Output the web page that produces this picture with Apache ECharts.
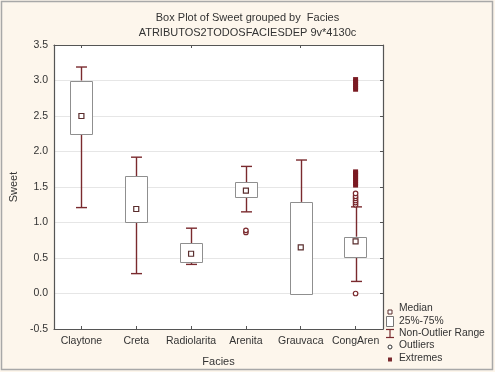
<!DOCTYPE html>
<html>
<head>
<meta charset="utf-8">
<script src="https://cdn.jsdelivr.net/npm/echarts@6/dist/echarts.min.js"></script>
<style>
html,body{margin:0;padding:0;background:#fdf6ec;}
#c{width:495px;height:372px;}
</style>
</head>
<body>
<div id="c"></div>
<script>
const categories = ['Claytone', 'Creta', 'Radiolarita', 'Arenita', 'Grauvaca', 'CongAren'];
const whiskerLow  = [1.21, 0.28, 0.41, 1.15, 0.00, 0.17];
const q1          = [2.26, 1.00, 0.44, 1.36, 0.00, 0.52];
const medians     = [2.50, 1.19, 0.56, 1.45, 0.65, 0.735];
const q3          = [3.00, 1.65, 0.71, 1.565, 1.29, 0.80];
const whiskerHigh = [3.19, 1.92, 0.92, 1.79, 1.88, 1.22];
const outlierCats = ['Arenita', 'Arenita', 'CongAren', 'CongAren', 'CongAren', 'CongAren', 'CongAren', 'CongAren', 'CongAren'];
const outlierVals = [0.86, 0.89, 0.00, 1.25, 1.28, 1.31, 1.34, 1.37, 1.41];
const extremeCats = ['CongAren', 'CongAren', 'CongAren', 'CongAren', 'CongAren', 'CongAren', 'CongAren', 'CongAren',
                     'CongAren', 'CongAren', 'CongAren', 'CongAren', 'CongAren', 'CongAren'];
const extremeVals = [1.52, 1.55, 1.58, 1.61, 1.64, 1.67, 1.70, 1.72,
                     2.87, 2.90, 2.93, 2.96, 2.99, 3.02];
const yTicks = { min: -0.5, max: 3.5, interval: 0.5 };

const RED = '#7a2a2e';
const BOXC = '#8f8f8f';
const TXT = '#333333';
const FONT = 'Liberation Sans, Arial, sans-serif';

const boxData = categories.map((c, i) => [i, q1[i], q3[i]]);
const whiskerData = categories.map((c, i) => [i, whiskerLow[i], q1[i], q3[i], whiskerHigh[i]]);
const medianData = categories.map((c, i) => [c, medians[i]]);
const outlierData = outlierCats.map((c, i) => [c, outlierVals[i]]);
const extremeData = extremeCats.map((c, i) => [c, extremeVals[i]]);

const chart = echarts.init(document.getElementById('c'), null, { renderer: 'canvas' });

const legendTx = 399;
const legendItems = [];
function ltext(y, t) {
  legendItems.push({ type: 'text', left: legendTx, top: y - 6,
    style: { text: t, fill: TXT, font: '10.3px ' + FONT } });
}
legendItems.push({ type: 'rect', shape: { x: 388, y: 310, width: 4, height: 4 }, style: { fill: '#fff', stroke: '#5a2e2e', lineWidth: 1 } });
ltext(309, 'Median');
legendItems.push({ type: 'rect', shape: { x: 386.5, y: 316.5, width: 7, height: 10 }, style: { fill: '#fff', stroke: '#777', lineWidth: 1 } });
ltext(322, '25%-75%');
legendItems.push({ type: 'polyline', shape: { points: [[386, 329.5], [394, 329.5]] }, style: { stroke: RED, lineWidth: 1.2, fill: null } });
legendItems.push({ type: 'polyline', shape: { points: [[390, 329.5], [390, 337.5]] }, style: { stroke: RED, lineWidth: 1.2, fill: null } });
legendItems.push({ type: 'polyline', shape: { points: [[386, 337.5], [394, 337.5]] }, style: { stroke: RED, lineWidth: 1.2, fill: null } });
ltext(334, 'Non-Outlier Range');
legendItems.push({ type: 'circle', shape: { cx: 390, cy: 347, r: 2 }, style: { fill: '#fff', stroke: '#333', lineWidth: 1 } });
ltext(346.5, 'Outliers');
legendItems.push({ type: 'rect', shape: { x: 388, y: 357.5, width: 4, height: 4 }, style: { fill: RED } });
ltext(359, 'Extremes');

const option = {
  animation: false,
  backgroundColor: '#fdf6ec',
  textStyle: { fontFamily: FONT },
  title: {
    text: 'Box Plot of Sweet grouped by  Facies',
    subtext: 'ATRIBUTOS2TODOSFACIESDEP 9v*4130c',
    left: 'center', top: 7, itemGap: 4,
    textStyle: { fontSize: 11, fontWeight: 'normal', color: TXT, fontFamily: FONT },
    subtextStyle: { fontSize: 11, color: TXT, fontFamily: FONT }
  },
  grid: { left: 48, right: 112, top: 45, bottom: 39, show: true, backgroundColor: '#ffffff', borderWidth: 0 },
  xAxis: [{
    type: 'category', data: categories, boundaryGap: true,
    name: 'Facies', nameLocation: 'middle', nameGap: 27,
    nameTextStyle: { fontSize: 11, color: TXT },
    axisLine: { show: true, onZero: false, lineStyle: { color: '#555', width: 1.2 } },
    axisTick: { show: true, alignWithLabel: true, inside: true, length: 3, lineStyle: { color: '#555' } },
    axisLabel: { fontSize: 10.5, color: TXT, margin: 7, interval: 0 },
    splitLine: { show: false }
  }, {
    type: 'category', data: categories, position: 'top', boundaryGap: true,
    axisLine: { show: true, onZero: false, lineStyle: { color: '#555', width: 1.2 } },
    axisTick: { show: true, alignWithLabel: true, inside: true, length: 3, lineStyle: { color: '#555' } },
    axisLabel: { show: false }
  }],
  yAxis: [{
    type: 'value', min: yTicks.min, max: yTicks.max, interval: yTicks.interval,
    name: 'Sweet', nameLocation: 'middle', nameGap: 31, nameRotate: 90,
    nameTextStyle: { fontSize: 11, color: TXT },
    axisLine: { show: true, onZero: false, lineStyle: { color: '#555', width: 1.2 } },
    axisTick: { show: false },
    axisLabel: { fontSize: 10.5, color: TXT, margin: 6, formatter: v => v.toFixed(1) },
    splitLine: { show: true, lineStyle: { color: '#e6e6e6', width: 1 } }
  }, {
    type: 'value', min: yTicks.min, max: yTicks.max, interval: yTicks.interval, position: 'right',
    axisLine: { show: true, onZero: false, lineStyle: { color: '#555', width: 1.2 } },
    axisTick: { show: true, inside: true, length: 3, lineStyle: { color: '#555' } },
    axisLabel: { show: false },
    splitLine: { show: false }
  }],
  series: [{
    name: '25%-75%', type: 'custom', xAxisIndex: 0, yAxisIndex: 0, z: 3,
    data: boxData,
    encode: { x: 0, y: [1, 2] },
    renderItem: function (params, api) {
      const i = api.value(0);
      const lo = api.coord([i, api.value(1)]);
      const hi = api.coord([i, api.value(2)]);
      const w = api.size([1, 0])[0] * 0.41;
      return { type: 'rect',
        shape: { x: Math.round(lo[0] - w / 2) + 0.5, y: Math.round(hi[1]) + 0.5, width: Math.round(w), height: Math.round(lo[1] - hi[1]) },
        style: { fill: '#ffffff', stroke: BOXC, lineWidth: 1 } };
    }
  }, {
    name: 'Non-Outlier Range', type: 'custom', xAxisIndex: 0, yAxisIndex: 0, z: 2,
    data: whiskerData,
    encode: { x: 0, y: [1, 4] },
    renderItem: function (params, api) {
      const i = api.value(0);
      const pLow = api.coord([i, api.value(1)]);
      const pQ1 = api.coord([i, api.value(2)]);
      const pQ3 = api.coord([i, api.value(3)]);
      const pHigh = api.coord([i, api.value(4)]);
      const cw = api.size([1, 0])[0] * 0.2;
      const x = Math.round(pLow[0]) + 0.5;
      const ls = { stroke: RED, lineWidth: 1.4, fill: null };
      return { type: 'group', children: [
        { type: 'line', shape: { x1: x, y1: pHigh[1], x2: x, y2: pQ3[1] }, style: ls },
        { type: 'line', shape: { x1: x, y1: pLow[1], x2: x, y2: pQ1[1] }, style: ls },
        { type: 'line', shape: { x1: x - cw / 2, y1: pHigh[1], x2: x + cw / 2, y2: pHigh[1] }, style: ls },
        { type: 'line', shape: { x1: x - cw / 2, y1: pLow[1], x2: x + cw / 2, y2: pLow[1] }, style: ls }
      ] };
    }
  }, {
    name: 'Median', type: 'scatter', xAxisIndex: 0, yAxisIndex: 0, z: 5,
    data: medianData, symbol: 'rect', symbolSize: 5,
    itemStyle: { color: '#ffffff', borderColor: '#5a2e2e', borderWidth: 1.2, opacity: 1 }
  }, {
    name: 'Outliers', type: 'scatter', xAxisIndex: 0, yAxisIndex: 0, z: 4,
    data: outlierData, symbol: 'circle', symbolSize: 4.5,
    itemStyle: { color: '#ffffff', borderColor: RED, borderWidth: 1.2, opacity: 1 }
  }, {
    name: 'Extremes', type: 'scatter', xAxisIndex: 0, yAxisIndex: 0, z: 4,
    data: extremeData, symbol: 'rect', symbolSize: [5, 4],
    itemStyle: { color: '#7a1a22', opacity: 1 }
  }],
  graphic: [
    { type: 'rect', shape: { x: 1.5, y: 1.5, width: 491, height: 368 }, style: { fill: null, stroke: '#a8a8a8', lineWidth: 1.5 }, silent: true, z: 100 }
  ].concat(legendItems)
};
chart.setOption(option);
</script>
</body>
</html>
